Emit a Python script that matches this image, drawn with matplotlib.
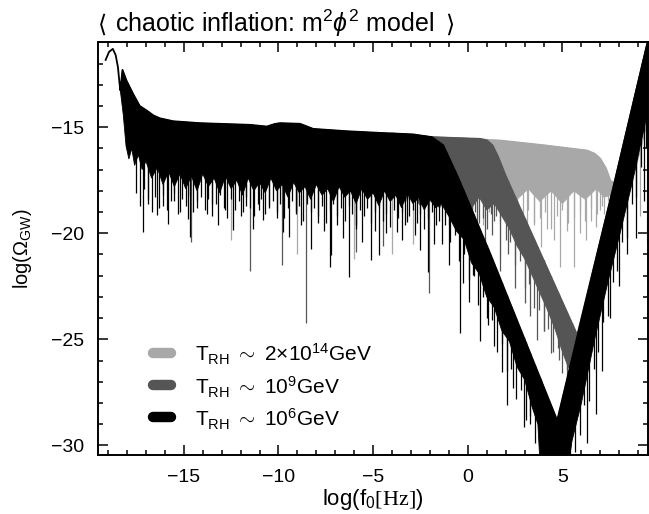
import numpy as np
import matplotlib
matplotlib.use('Agg')
import matplotlib.pyplot as plt
from matplotlib.ticker import MultipleLocator

plt.rcParams['font.family'] = ['Liberation Sans', 'DejaVu Sans']
plt.rcParams['mathtext.fontset'] = 'custom'
plt.rcParams['mathtext.rm'] = 'Liberation Sans'
plt.rcParams['mathtext.it'] = 'Liberation Sans:italic'
plt.rcParams['mathtext.tt'] = 'Liberation Serif'

# ---------------- data ----------------
# T_RH ~ 10^6 GeV (black)
black_env_x = [-19.13, -18.95, -18.75, -18.6, -18.48, -18.4, -18.35, -18.24, -18.03, -17.68,
               -17.33, -16.97, -16.6, -16.27, -15.56, -14.15, -11.5, -10.62, -10.2, -9.92,
               -8.86, -8.17, -6.39, -4.63, -2.88, -1.9, -1.3, -0.5, 1.2, 3.0,
               4.72, 5.8, 7.75, 8.77, 9.6]
black_env_y = [-11.83, -11.45, -11.31, -11.6, -12.17, -12.9, -13.27, -12.3, -12.8, -13.43,
               -14.0, -14.21, -14.45, -14.58, -14.72, -14.81, -14.89, -14.97, -14.85, -14.81,
               -14.84, -15.08, -15.19, -15.27, -15.34, -15.47, -15.85, -17.4, -21.0, -25.0,
               -28.82, -24.8, -17.6, -13.74, -10.6]
black_low_x = [-18.35, -18.2, -18.05, -17.9, -17.75, -17.6, -17.4, -17.2,
               -17.0, -16.7, -16.4, -16.1, -15.8, -15.5, -15.2, -14.9, -14.6, -14.3,
               -14.0, -13.7, -13.4, -13.1, -12.8, -12.5, -12.2, -11.9, -11.6, -11.3,
               -11.0, -10.7, -10.4, -10.1, -9.8, -9.5, -9.2, -8.9, -8.6, -8.3,
               -8.0, -7.7, -7.4, -7.1, -6.8, -6.5, -6.2, -5.9, -5.6, -5.3,
               -5.0, -4.7, -4.4, -4.1, -3.8, -3.5, -3.2, -2.9, -2.6, -2.3,
               -2.0, -1.7, -1.4, -1.0, -0.6, -0.2, 0.2, 0.6, 1.0, 1.4,
               1.8, 2.2, 2.6, 3.0, 3.4, 3.7, 3.85, 5.23, 5.5, 6.0,
               6.7, 7.4, 8.04, 8.69, 9.2, 9.7, 9.7]
black_low_y = [-13.3, -14.4, -15.9, -16.5, -16.0, -16.8, -16.3, -17.0,
               -16.6, -17.4, -16.9, -17.7, -17.1, -17.8, -17.2, -17.9, -17.3, -18.0,
               -17.2, -17.8, -17.4, -18.1, -17.3, -17.9, -17.5, -18.2, -17.4, -18.0,
               -17.6, -18.1, -17.4, -18.0, -17.7, -18.3, -17.6, -18.1, -17.8, -18.4,
               -17.7, -18.2, -17.9, -18.5, -17.8, -18.3, -18.0, -18.6, -17.9, -18.4,
               -18.1, -18.7, -18.0, -18.5, -18.2, -18.8, -18.1, -18.6, -18.3, -18.9,
               -18.4, -18.8, -18.6, -19.2, -19.9, -20.3, -21.4, -21.9, -23.0, -23.5,
               -24.6, -25.1, -26.3, -26.9, -28.2, -29.0, -31.5, -31.5, -29.8, -28.0,
               -25.0, -22.3, -20.0, -17.6, -15.5, -13.5, -10.5]
black_spike_x = [-17.15, -16.9, -16.44, -16.1, -15.83, -15.5, -15.2, -14.77, -14.65, -14.3,
                 -13.8, -13.5, -13.18, -12.8, -12.39, -12.0, -11.7, -11.33, -11.05, -10.84,
                 -10.5, -10.1, -9.78, -9.42, -9.1, -8.8, -8.3, -7.9, -7.6, -7.3,
                 -7.22, -6.9, -6.6, -6.29, -5.9, -5.6, -5.13, -4.9, -4.68, -4.3,
                 -3.75, -3.5, -3.22, -2.8, -2.5, -2.12, -1.77, -1.37, -1.0, -0.42,
                 -0.28, 0.07, 0.28, 0.66, 1.0, 1.4, 1.81, 2.07, 2.4, 2.95,
                 3.3, 3.84, 6.3, 6.75, 7.1, 7.5, 8.0, 8.4, 8.9, 9.3]
black_spike_y = [-19.94, -18.6, -19.15, -18.7, -19.54, -18.5, -19.0, -19.31, -20.17, -18.8,
                 -19.08, -18.6, -19.63, -18.9, -19.86, -19.2, -18.7, -19.78, -18.9, -19.39,
                 -18.8, -19.3, -19.94, -20.17, -19.0, -19.6, -20.72, -19.5, -19.9, -21.58,
                 -21.03, -19.6, -20.2, -22.05, -19.8, -20.4, -21.24, -19.9, -21.03, -20.0,
                 -19.94, -20.3, -19.47, -20.1, -20.8, -21.82, -20.49, -20.49, -21.5, -24.71,
                 -22.36, -23.22, -21.97, -25.1, -24.0, -25.3, -26.52, -28.09, -27.3, -29.11,
                 -29.0, -30.2, -29.9, -28.5, -26.5, -24.0, -22.5, -21.0, -20.2, -18.5]
# dense short oscillation minima (hair) of the black spectrum
black_hair_x = [-17.5, -17.3, -17.1, -16.9, -16.7, -16.5, -16.3, -16.1, -15.9, -15.7,
                -15.5, -15.3, -15.1, -14.9, -14.7, -14.5, -14.3, -14.1, -13.9, -13.7,
                -13.5, -13.3, -13.1, -12.9, -12.7, -12.5, -12.3, -12.1, -11.9, -11.7,
                -11.5, -11.3, -11.1, -10.9, -10.7, -10.5, -10.3, -10.1, -9.9, -9.7,
                -9.5, -9.3, -9.1, -8.9, -8.7, -8.5, -8.3, -8.1, -7.9, -7.7,
                -7.5, -7.3, -7.1, -6.9, -6.7, -6.5, -6.3, -6.1, -5.9, -5.7,
                -5.5, -5.3, -5.1, -4.9, -4.7, -4.5, -4.3, -4.1, -3.9, -3.7,
                -3.5, -3.3, -3.1, -2.9, -2.7, -2.5, -2.3, -2.1, -1.9, -1.7, -1.5,
                -1.2, -0.95, -0.7, -0.45, -0.2, 0.05, 0.3, 0.55, 0.8, 1.05,
                1.3, 1.55, 1.8, 2.05, 2.3, 2.55, 2.8, 3.05, 3.3, 3.55, 3.8,
                5.4, 5.65, 5.9, 6.15, 6.4, 6.65, 6.9, 7.15, 7.4, 7.65,
                7.9, 8.15, 8.4, 8.65, 8.9, 9.15, 9.4]
black_hair_y = [-18.1, -18.7, -17.9, -18.4, -19.0, -18.3, -18.8, -18.2, -18.9, -18.5,
                -18.1, -19.1, -18.4, -18.7, -18.2, -19.0, -18.5, -18.3, -18.9, -18.4,
                -19.2, -18.6, -18.2, -18.8, -19.3, -18.4, -18.9, -18.5, -19.0, -18.3,
                -18.8, -19.2, -18.6, -18.4, -19.1, -18.7, -18.5, -19.0, -18.6, -19.3,
                -18.8, -18.5, -19.1, -18.7, -19.4, -18.6, -19.0, -18.8, -19.2, -18.7,
                -19.5, -18.9, -18.6, -19.2, -18.8, -19.4, -18.7, -19.1, -19.6, -18.9,
                -19.2, -18.8, -19.5, -19.0, -18.8, -19.4, -19.1, -19.7, -18.9, -19.3,
                -19.0, -19.6, -19.2, -18.9, -19.5, -19.1, -19.8, -19.3, -19.0, -19.6, -19.4,
                -19.6, -20.4, -20.1, -21.3, -21.0, -22.2, -22.0, -23.4, -23.0, -24.3,
                -24.1, -25.6, -25.2, -26.5, -26.4, -27.8, -27.4, -28.8, -28.6, -29.9, -30.0,
                -30.8, -30.3, -29.5, -28.1, -27.9, -26.4, -25.6, -24.2, -23.9, -22.3,
                -21.8, -20.4, -20.2, -18.6, -18.3, -16.9, -16.0]

# T_RH ~ 10^9 GeV (dark grey)
dgray_env_x = [-4.0, -1.9, 0.66, 1.0, 1.3, 1.6, 2.0, 5.78, 7.75, 8.77, 9.6]
dgray_env_y = [-15.3, -15.47, -15.55, -15.62, -15.85, -16.4, -17.3, -24.8, -17.6, -13.74, -10.6]
dgray_low_x = [-4.0, -3.5, -3.0, -2.5, -2.0, -1.5, -1.0, -0.6, -0.2, 0.2,
               0.6, 1.0, 1.4, 1.8, 2.2, 2.6, 3.0, 3.4, 3.8, 4.2,
               4.6, 5.0, 5.3, 5.6, 6.0, 6.5, 7.2, 8.0, 8.8, 9.7]
dgray_low_y = [-18.0, -18.6, -18.1, -18.7, -18.2, -18.8, -18.3, -18.9, -18.2, -18.8,
               -18.3, -18.9, -18.6, -19.2, -19.8, -20.6, -21.2, -22.0, -22.8, -23.6,
               -24.5, -25.6, -26.3, -26.6, -26.2, -25.0, -22.4, -19.5, -16.5, -13.0]
dgray_spike_x = [-14.6, -11.51, -9.83, -8.55, -5.9, -4.5, -2.07, 0.2, 0.5, 0.9,
                 1.3, 1.7, 2.1, 2.5, 3.04, 3.3, 3.66, 4.0, 4.37, 4.81, 5.25, 5.5]
dgray_spike_y = [-20.4, -21.77, -21.5, -24.24, -20.9, -20.6, -22.8, -20.2, -19.7, -20.6,
                 -20.1, -21.8, -21.0, -22.6, -23.3, -23.9, -25.03, -24.6, -25.66, -25.97, -26.8, -27.3]
dgray_hair_x = [-1.2, -1.0, -0.8, -0.6, -0.4, -0.2, 0.0, 0.2, 0.4, 0.6, 0.8, 1.0, 1.2, 1.4,
                1.5, 1.75, 2.0, 2.25, 2.5, 2.75, 3.0, 3.25, 3.5, 3.75, 4.0, 4.25, 4.5, 4.75,
                5.0, 5.25, 5.5]
dgray_hair_y = [-19.2, -19.6, -19.0, -19.5, -19.8, -19.1, -19.4, -19.7, -19.0, -19.5, -19.3,
                -19.8, -19.1, -19.4,
                -19.2, -19.0, -20.3, -20.4, -21.5, -21.3, -22.6, -22.4, -23.5, -23.6, -24.6,
                -24.5, -25.6, -25.4, -26.6, -26.4, -27.2]

# T_RH ~ 2x10^14 GeV (light grey)
lgray_env_x = [-4.0, -1.9, 1.72, 4.0, 6.3, 6.7, 7.0, 7.3, 7.54, 7.75, 8.77, 9.6]
lgray_env_y = [-15.3, -15.47, -15.63, -15.85, -16.1, -16.25, -16.49, -16.95, -17.55, -17.6, -13.74, -10.6]
lgray_low_x = [-4.0, -3.4, -2.8, -2.2, -1.6, -1.0, -0.4, 0.2, 0.8, 1.4,
               2.0, 2.6, 3.2, 3.8, 4.4, 5.0, 5.6, 6.2, 6.8, 7.2,
               7.6, 8.2, 8.8, 9.7]
lgray_low_y = [-18.0, -18.6, -18.1, -18.7, -18.2, -18.8, -18.3, -18.6, -17.9, -18.5,
               -17.8, -18.4, -17.9, -18.5, -18.0, -18.6, -18.0, -18.4, -17.9, -18.3,
               -18.2, -18.0, -17.2, -14.0]
lgray_spike_x = [-12.5, -9.0, -6.0, -4.01, -2.9, 1.72, 2.25, 2.6, 3.13, 3.5,
                 3.84, 4.2, 4.54, 4.89, 5.25, 5.6, 5.9, 6.22, 6.5, 6.75,
                 7.0, 7.19, 9.1, 9.48]
lgray_spike_y = [-20.3, -21.0, -21.2, -20.96, -20.5, -21.27, -20.0, -19.6, -20.94, -19.5,
                 -20.64, -19.8, -20.33, -21.58, -19.9, -21.58, -20.0, -20.33, -19.4, -19.71,
                 -18.9, -19.08, -19.2, -20.48]
lgray_hair_x = [-1.0, -0.7, -0.4, -0.1, 0.2, 0.5, 0.8, 1.1, 1.4, 1.7,
                2.0, 2.3, 2.6, 2.9, 3.2, 3.5, 3.8, 4.1, 4.4, 4.7,
                5.0, 5.3, 5.6, 5.9, 6.2, 6.5, 6.8, 7.1, 7.4]
lgray_hair_y = [-19.0, -18.7, -19.3, -18.8, -19.4, -18.9, -19.6, -19.0, -18.8, -19.5,
                -19.1, -18.9, -19.7, -19.2, -18.9, -19.6, -19.3, -19.0, -19.8, -19.2,
                -18.9, -19.5, -19.3, -19.0, -19.4, -18.8, -19.1, -18.7, -18.5]

labels = [r'T$_{\rm RH}$ $\sim$ 2$\times$10$^{14}$GeV',
          r'T$_{\rm RH}$ $\sim$ 10$^{9}$GeV',
          r'T$_{\rm RH}$ $\sim$ 10$^{6}$GeV']
colors = ['#a8a8a8', '#555555', '#000000']
title_open, title_main, title_close = '\u27e8', r'chaotic inflation: m$^2\phi^2$ model', '\u27e9'

# ---------------- figure ----------------
fig = plt.figure(figsize=(6.49, 5.14), dpi=100)
ax = fig.add_axes([0.1505, 0.1148, 0.8475, 0.8029])

series = [
    (lgray_env_x, lgray_env_y, lgray_low_x, lgray_low_y,
     lgray_spike_x + lgray_hair_x, lgray_spike_y + lgray_hair_y),
    (dgray_env_x, dgray_env_y, dgray_low_x, dgray_low_y,
     dgray_spike_x + dgray_hair_x, dgray_spike_y + dgray_hair_y),
    (black_env_x, black_env_y, black_low_x, black_low_y,
     black_spike_x + black_hair_x, black_spike_y + black_hair_y),
]
for z, (c, (ex, ey, lx, ly, sx, sy)) in enumerate(zip(colors, series)):
    ex = np.asarray(ex); ey = np.asarray(ey)
    m = ex >= lx[0]
    px = np.concatenate([ex[m], np.asarray(lx)[::-1]])
    py = np.concatenate([ey[m], np.asarray(ly)[::-1]])
    ax.fill(px, py, color=c, lw=0.6, ec=c, zorder=2 + z)
    ax.plot(ex, ey, color=c, lw=1.3, zorder=2 + z)
    top = np.interp(sx, ex, ey)
    ax.vlines(sx, sy, top, color=c, lw=0.9, zorder=2 + z)

ax.set_xlim(-19.55, 9.5)
ax.set_ylim(-30.45, -11.0)
ax.xaxis.set_major_locator(MultipleLocator(5))
ax.xaxis.set_minor_locator(MultipleLocator(1))
ax.yaxis.set_major_locator(MultipleLocator(5))
ax.yaxis.set_minor_locator(MultipleLocator(1))
ax.tick_params(which='both', direction='in', top=True, right=True, width=1.1,
               labelsize=14, pad=10)
ax.tick_params(which='major', length=7.2)
ax.tick_params(which='minor', length=3.6)
for s in ax.spines.values():
    s.set_linewidth(1.4)

ax.set_xlabel(r'log(f$_0$$\mathtt{[Hz]}$)', fontsize=16, labelpad=1)
ax.set_ylabel(r'log($\Omega_{\rm GW}$)', fontsize=14.5, labelpad=12)
ax.text(0.0, 1.026, title_open, transform=ax.transAxes, fontsize=17,
        ha='left', va='baseline', family='DejaVu Sans')
ax.text(0.0315, 1.026, title_main, transform=ax.transAxes, fontsize=18,
        ha='left', va='baseline')
ax.text(0.631, 1.026, title_close, transform=ax.transAxes, fontsize=17,
        ha='left', va='baseline', family='DejaVu Sans')

# legend (drawn manually)
rows = [0.2479, 0.1696, 0.0921]
for lab, c, yr in zip(labels, colors, rows):
    ax.plot([0.1004, 0.1334], [yr, yr], transform=ax.transAxes, color=c, lw=7.5,
            solid_capstyle='round', zorder=10)
    ax.text(0.177, yr - 0.022, lab, transform=ax.transAxes, fontsize=15,
            ha='left', va='baseline', zorder=10)

fig.savefig('out.png', dpi=100)
